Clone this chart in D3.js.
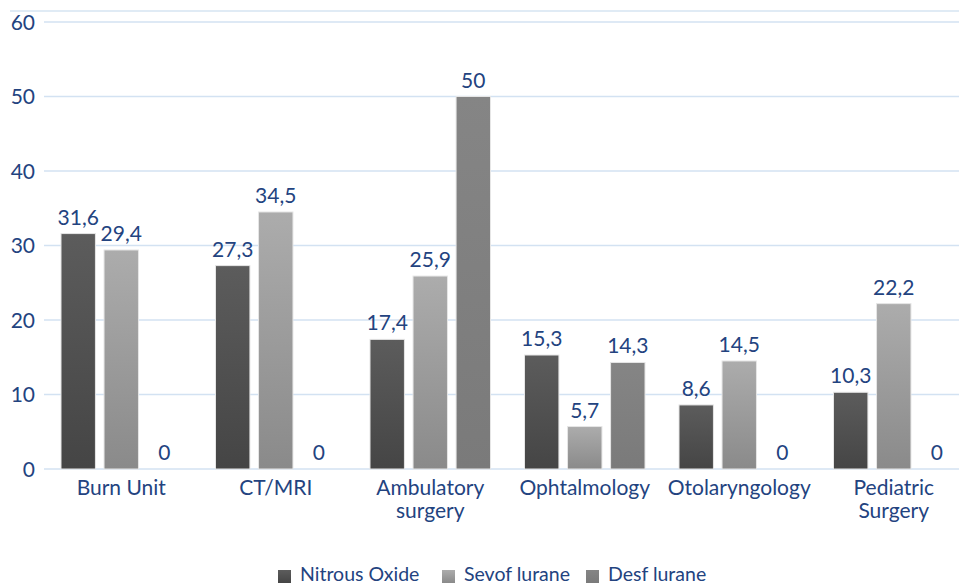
<!DOCTYPE html>
<html><head><meta charset="utf-8">
<script src="https://cdn.jsdelivr.net/npm/d3@7/dist/d3.min.js"></script>
<style>body{margin:0;background:#fff}svg{display:block}text{font-family:Lato,"Open Sans",sans-serif}</style>
</head><body><svg id="c" width="959" height="586"></svg>
<script>
const categories = [["Burn Unit"],["CT/MRI"],["Ambulatory","surgery"],["Ophtalmology"],["Otolaryngology"],["Pediatric","Surgery"]];
const seriesNames = ["Nitrous Oxide","Sevof lurane","Desf lurane"];
const nitrous = [31.6,27.3,17.4,15.3,8.6,10.3];
const sevo = [29.4,34.5,25.9,5.7,14.5,22.2];
const desf = [0,0,50,14.3,0,0];
const yTicks = [0,10,20,30,40,50,60];

const svg = d3.select("#c");
const txt = "#23437f";
const fs = 21;
const y = d3.scaleLinear().domain([0,60]).range([469,22]);
const x0 = d3.scaleBand().domain(d3.range(categories.length)).range([44,971]).paddingInner(0).paddingOuter(0);
const x1 = d3.scaleBand().domain([0,1,2]).range([17, x0.bandwidth()-17]).paddingInner(0.2).paddingOuter(0);

const defs = svg.append("defs");
const grads = [["#5c5c5c","#454545"],["#acacac","#8a8a8a"],["#858585","#7a7a7a"]];
grads.forEach((g,i)=>{
  const lg = defs.append("linearGradient").attr("id","g"+i).attr("x1",0).attr("y1",0).attr("x2",0).attr("y2",1);
  lg.append("stop").attr("offset","0%").attr("stop-color",g[0]);
  lg.append("stop").attr("offset","100%").attr("stop-color",g[1]);
});

// top border
svg.append("line").attr("x1",10).attr("x2",959).attr("y1",11).attr("y2",11).attr("stroke","#d6e4f2").attr("stroke-width",1.5);

// gridlines
svg.append("g").selectAll("line").data(yTicks).join("line")
  .attr("x1",44).attr("x2",959).attr("y1",d=>y(d)).attr("y2",d=>y(d))
  .attr("stroke","#d3e2f2").attr("stroke-width",1.5);
// y tick labels
svg.append("g").selectAll("text").data(yTicks).join("text")
  .attr("x",35).attr("y",d=>y(d)).attr("dy","0.36em").attr("text-anchor","end")
  .attr("fill",txt).attr("font-size",fs).text(d=>d);

const series = [nitrous, sevo, desf];
const fmt = v => String(v).replace(".",",");
series.forEach((vals,si)=>{
  const g = svg.append("g");
  g.selectAll("rect").data(vals).join("rect")
    .attr("x",(d,i)=>x0(i)+x1(si)).attr("width",x1.bandwidth())
    .attr("y",d=>y(d)).attr("height",d=>y(0)-y(d))
    .attr("fill","url(#g"+si+")").attr("stroke","#e6e6e6").attr("stroke-width",1)
    .style("display",d=>d===0?"none":null);
  g.selectAll("text").data(vals).join("text")
    .attr("x",(d,i)=>x0(i)+x1(si)+x1.bandwidth()/2).attr("y",d=>y(d)-9)
    .attr("text-anchor","middle").attr("fill",txt).attr("font-size",fs).text(d=>fmt(d));
});

// category labels
const cg = svg.append("g");
categories.forEach((lines,i)=>{
  const t = cg.append("text").attr("x",x0(i)+x0.bandwidth()/2).attr("y",495)
    .attr("text-anchor","middle").attr("fill",txt).attr("font-size",fs);
  lines.forEach((l,j)=>t.append("tspan").attr("x",x0(i)+x0.bandwidth()/2).attr("dy",j===0?0:23).text(l));
});

// legend
const legX = [278,442,586];
const lg = svg.append("g");
seriesNames.forEach((n,i)=>{
  lg.append("rect").attr("x",legX[i]).attr("y",570).attr("width",13).attr("height",13).attr("fill","url(#g"+i+")");
  lg.append("text").attr("x",legX[i]+22).attr("y",581).attr("fill",txt).attr("font-size",19.5).text(n);
});
</script></body></html>
